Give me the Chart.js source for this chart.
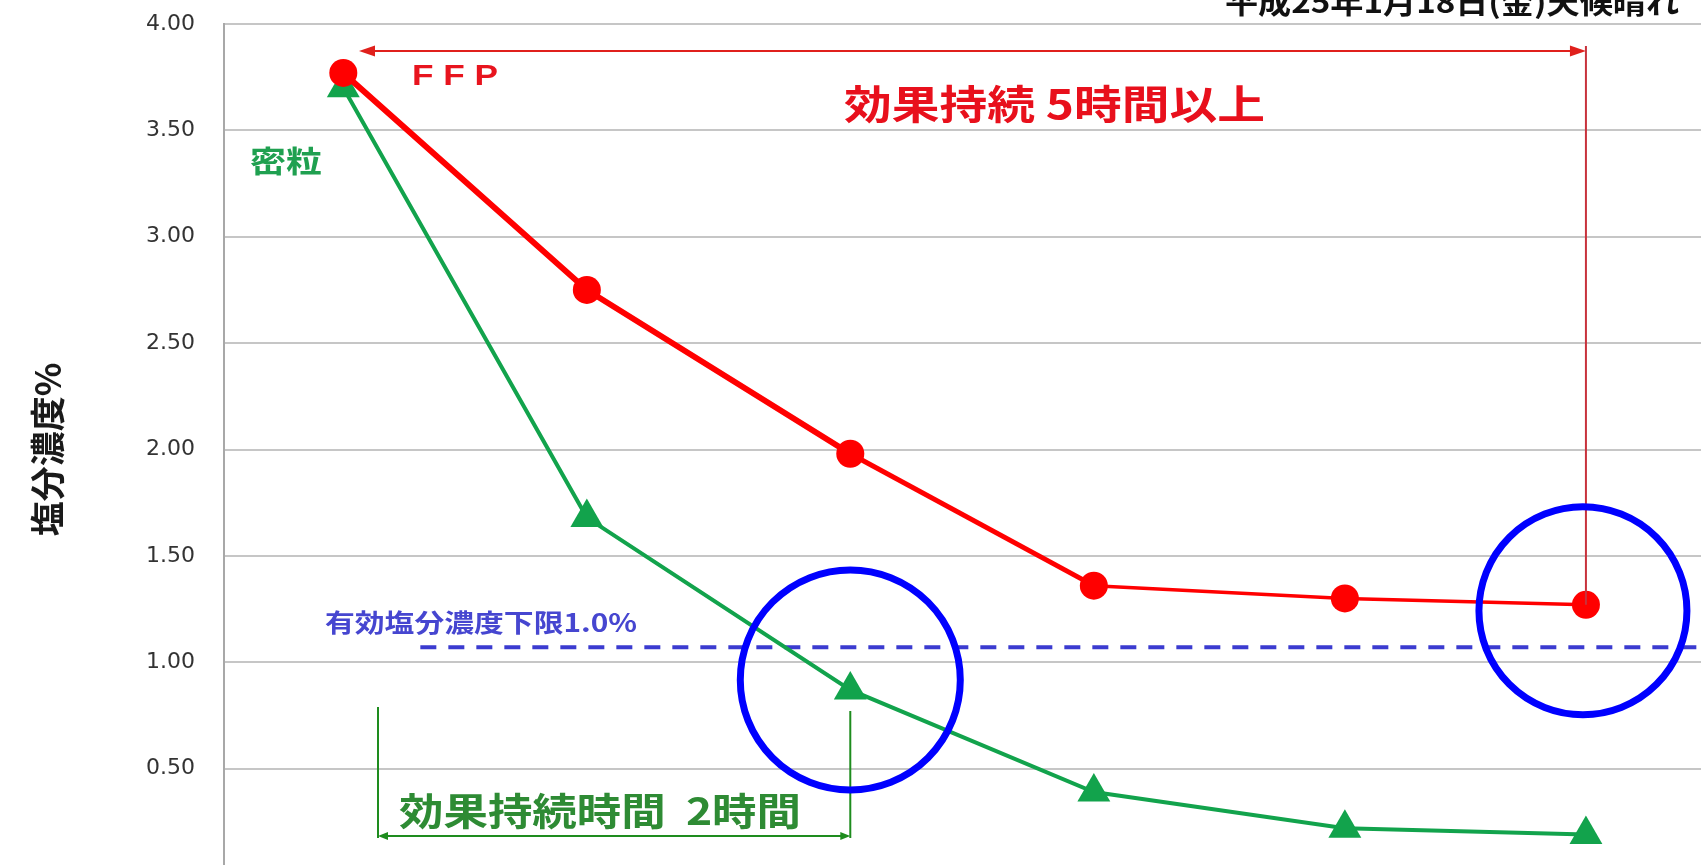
<!DOCTYPE html>
<html lang="ja">
<head>
<meta charset="utf-8">
<title>塩分濃度の推移</title>
<script src="https://cdn.jsdelivr.net/npm/chart.js@4.4.1/dist/chart.umd.min.js"></script>
<style>
    html, body { margin: 0; padding: 0; background: #fff; overflow: hidden; }
    /* plot continues a little below the visible window, like the source image */
    #wrap { width: 1701px; height: 865px; overflow: hidden; }
    canvas { display: block; }
</style>
</head>
<body>
<div id="wrap"><canvas id="salt-chart" width="1701" height="885"></canvas></div>
<script>
// elapsed time (hours) at each measurement
const hours = [0, 0.98, 2.04, 3.02, 4.03, 5.0];
// salt concentration (%)
const ffpValues = [3.77, 2.75, 1.98, 1.36, 1.30, 1.27];
const mitsuryuValues = [3.70, 1.68, 0.87, 0.39, 0.22, 0.19];
// effective lower limit line
const limitHours = [0.31, 5.46];
const limitValues = [1.07, 1.07];

const seriesNames = ['FFP', '密粒', '有効塩分濃度下限1.0%'];
const dateLabel = '平成25年1月18日(金)天候晴れ';
const yTitle = '塩分濃度%';
const ffpNote = '効果持続 5時間以上';
const mitsuryuNote = '効果持続時間  2時間';

const CJK = '"Noto Sans CJK JP", "Noto Sans", sans-serif';

// draw text squeezed/stretched to a given width
function fitText(ctx, text, x, y, width, font, color, baseline) {
    ctx.save();
    ctx.font = font;
    ctx.fillStyle = color;
    ctx.textAlign = 'left';
    ctx.textBaseline = baseline || 'middle';
    const w = ctx.measureText(text).width;
    ctx.translate(x, y);
    ctx.scale(width / w, 1);
    ctx.fillText(text, 0, 0);
    ctx.restore();
}

function arrowHead(ctx, tipX, tipY, dir, len, half, color) {
    ctx.save();
    ctx.fillStyle = color;
    ctx.beginPath();
    ctx.moveTo(tipX, tipY);
    ctx.lineTo(tipX - dir * len, tipY - half);
    ctx.lineTo(tipX - dir * len, tipY + half);
    ctx.closePath();
    ctx.fill();
    ctx.restore();
}

function line(ctx, x1, y1, x2, y2, color, width) {
    ctx.save();
    ctx.strokeStyle = color;
    ctx.lineWidth = width;
    ctx.beginPath();
    ctx.moveTo(x1, y1);
    ctx.lineTo(x2, y2);
    ctx.stroke();
    ctx.restore();
}

const annotations = {
    id: 'annotations',
    afterDraw(chart) {
        const ctx = chart.ctx;
        const xs = chart.scales.x;
        const ys = chart.scales.y;
        const lastX = xs.getPixelForValue(hours[5]);
        const lastRedY = ys.getPixelForValue(ffpValues[5]);
        const twoHX = xs.getPixelForValue(hours[2]);
        const twoHY = ys.getPixelForValue(mitsuryuValues[2]);

        // date / weather (cut off at top)
        fitText(ctx, dateLabel, 1225, 13, 454, 'bold 30px ' + CJK, '#111', 'alphabetic');

        // red span arrow + drop line to last FFP point
        line(ctx, 372, 51, lastX - 14, 51, '#e0201c', 2);
        arrowHead(ctx, 359, 51, -1, 16, 5.5, '#e0201c');
        arrowHead(ctx, lastX, 51, 1, 16, 5.5, '#e0201c');
        line(ctx, lastX, 46, lastX, lastRedY, '#c8323c', 2);

        fitText(ctx, seriesNames[0].split('').join(' '), 412, 85, 86,
            'bold 30px "Liberation Sans", Arial, sans-serif', '#e8141e', 'alphabetic');
        fitText(ctx, ffpNote, 844, 104, 421, 'bold 40px ' + CJK, '#e8101c');
        fitText(ctx, seriesNames[1], 250, 161, 72, 'bold 30px ' + CJK, '#1fa050');
        fitText(ctx, seriesNames[2], 325, 622, 312, 'bold 25px ' + CJK, '#4646d0');

        // green bracket for 2 hours
        const g = '#1e8c1e';
        line(ctx, 378, 707, 378, 838, g, 2);
        line(ctx, twoHX, 711, twoHX, 838, g, 2);
        line(ctx, 384, 836, twoHX - 6, 836, g, 2);
        arrowHead(ctx, 378, 836, -1, 10, 4, g);
        arrowHead(ctx, twoHX, 836, 1, 10, 4, g);
        fitText(ctx, mitsuryuNote, 399, 811, 402, 'bold 38px ' + CJK, '#2e8b34');

        // blue highlight circles
        ctx.save();
        ctx.strokeStyle = '#0000ff';
        ctx.lineWidth = 7;
        ctx.beginPath();
        ctx.arc(twoHX, twoHY - 10, 110, 0, Math.PI * 2);
        ctx.stroke();
        ctx.beginPath();
        ctx.arc(lastX - 3, lastRedY + 6, 104, 0, Math.PI * 2);
        ctx.stroke();
        ctx.restore();
    }
};

const ctx = document.getElementById('salt-chart').getContext('2d');
const chart = new Chart(ctx, {
    type: 'line',
    data: {
        datasets: [{
            label: seriesNames[0],
            data: hours.map((h, i) => ({ x: h, y: ffpValues[i] })),
            borderColor: '#ff0000',
            backgroundColor: '#ff0000',
            borderWidth: 5,
            segment: {
                borderWidth: c => c.p0DataIndex < 2 ? 6 : (c.p0DataIndex < 3 ? 5 : 3.5)
            },
            pointStyle: 'circle',
            pointRadius: 14,
            pointBorderWidth: 0,
            tension: 0
        }, {
            label: seriesNames[1],
            data: hours.map((h, i) => ({ x: h, y: mitsuryuValues[i] })),
            borderColor: '#12a34c',
            backgroundColor: '#12a34c',
            borderWidth: 4,
            pointStyle: 'triangle',
            pointRadius: 19,
            pointBorderWidth: 0,
            tension: 0
        }, {
            label: seriesNames[2],
            data: limitHours.map((h, i) => ({ x: h, y: limitValues[i] })),
            borderColor: '#3b3bd0',
            borderWidth: 4,
            borderDash: [16, 12],
            pointRadius: 0
        }]
    },
    options: {
        responsive: false,
        animation: false,
        layout: {
            autoPadding: false,
            padding: { top: 24, right: 0, bottom: 10, left: 0 }
        },
        scales: {
            x: {
                type: 'linear',
                min: -0.48,
                max: 5.463,
                display: false
            },
            y: {
                min: 0,
                max: 4,
                afterFit: s => {
                    s.width = 224;
                    s.paddingTop = 0;
                    s.paddingBottom = 0;
                },
                ticks: {
                    stepSize: 0.5,
                    padding: 29,
                    color: '#333333',
                    font: { family: 'DejaVu Sans', size: 22 },
                    callback: v => v.toFixed(2)
                },
                grid: {
                    color: '#c6c6c6',
                    lineWidth: 2,
                    drawTicks: false
                },
                border: {
                    color: '#a8a8a8',
                    width: 2
                },
                title: {
                    display: true,
                    text: yTitle,
                    color: '#1a1a1a',
                    font: { family: 'Noto Sans CJK JP', size: 35, weight: 'bold' },
                    padding: { top: 27, bottom: 0 }
                }
            }
        },
        plugins: {
            legend: { display: false },
            tooltip: { enabled: false }
        }
    },
    plugins: [annotations]
});
</script>
</body>
</html>
